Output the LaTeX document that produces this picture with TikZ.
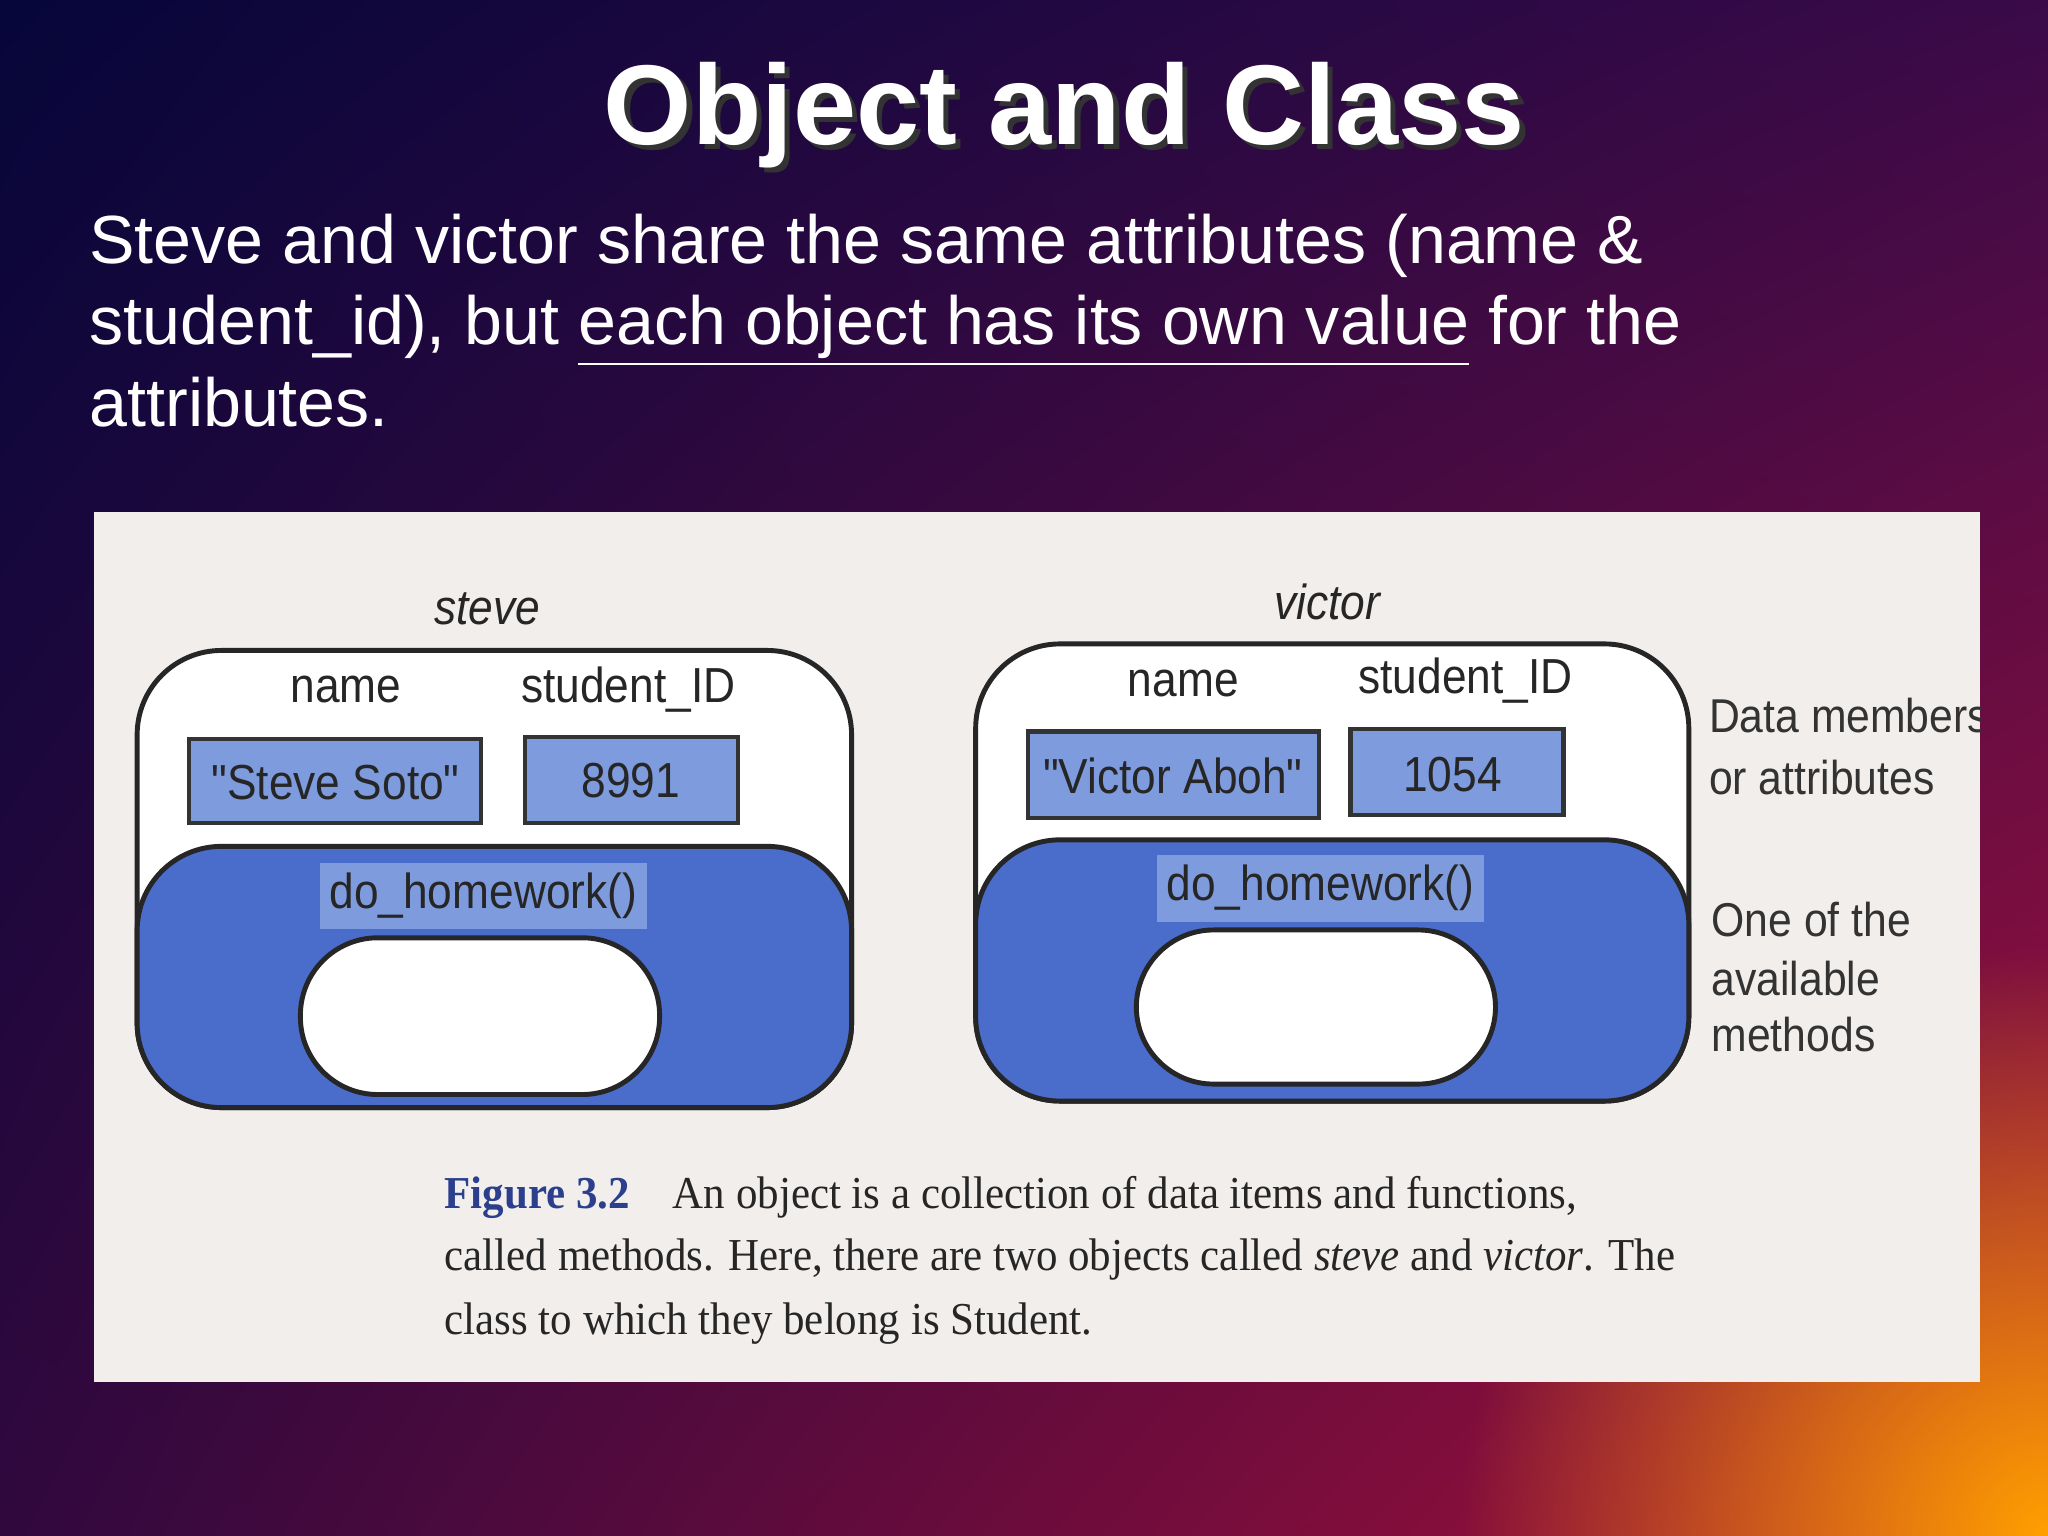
\documentclass[tikz,border=0pt]{standalone}
\usepackage{fontspec}
\setmainfont{Liberation Sans}
\newfontfamily\serifF{Liberation Serif}
\usetikzlibrary{fadings,shadings}
\definecolor{objblue}{HTML}{4A6CCB}
\definecolor{boxblue}{HTML}{7E9BDD}
\definecolor{paper}{HTML}{F1EEEC}
\definecolor{figblue}{HTML}{2B3F8C}
\definecolor{bgUL}{HTML}{06063A}
\definecolor{bgUR}{HTML}{3A0A48}
\definecolor{bgLL}{HTML}{30083E}
\definecolor{bgLR}{HTML}{A8103A}
\definecolor{bgOr}{HTML}{FFA000}
\tikzset{
 lab/.style={font=\fontsize{14}{16}\selectfont, text=black!85, xscale=0.9, inner sep=0},
 valbox/.style={draw=black!80, line width=1.2pt, fill=boxblue},
 objline/.style={draw=black!85, line width=1.4pt},
 captext/.style={font=\serifF\fontsize{13}{15}\selectfont, text=black!85, anchor=base west, inner sep=0, xscale=0.94},
 side/.style={font=\fontsize{13.5}{16}\selectfont, text=black!80, anchor=base west, inner sep=0, xscale=0.9},
}
\tikzfading[name=fuzzy, inner color=transparent!0, outer color=transparent!100]
\begin{document}
\begin{tikzpicture}[x=0.013061cm,y=-0.013061cm]
\useasboundingbox (0,0) rectangle (1568,1176);
\shade[upper left=bgUL, upper right=bgUR, lower left=bgLL, lower right=bgLR] (0,0) rectangle (1568,1176);
\begin{scope}
\clip (0,0) rectangle (1568,1176);
\fill[bgOr, path fading=fuzzy] (1568,1176) circle (450);
\end{scope}
% title
\node[text=black!80, font=\bfseries\fontsize{32.3}{36}\selectfont] at (819,92) {Object and Class};
\node (title) [text=white, font=\bfseries\fontsize{32.3}{36}\selectfont] at (815,88) {Object and Class};
\node (body) [text=white, font=\fontsize{19.4}{23.3}\selectfont, anchor=north west, align=left, inner sep=0] at (68,163)
 {Steve and victor share the same attributes (name \&\\student\_id), but \underline{each object has its own value} for the\\attributes.};
% panel
\fill[paper] (72,392) rectangle (1516,1058);
\begin{scope}
\clip (72,392) rectangle (1516,1058);
% steve
\path[objline, fill=white, rounded corners=24pt] (105,498) rectangle (652,848);
\path[objline, fill=objblue, rounded corners=24pt] (105,648) rectangle (652,848);
\path[objline, fill=white, rounded corners=22pt] (230,718) rectangle (505,838);
\node[lab, font=\itshape\fontsize{14}{16}\selectfont] (sname) at (373,466) {steve};
\node[lab] (sn) at (265,528) {name};
\node[lab] (sid) at (481,528) {student\_ID};
\draw[valbox] (145,566) rectangle (368,630);
\node[lab] (sv1) at (257,599) {\textquotedbl Steve Soto\textquotedbl};
\draw[valbox] (402,564) rectangle (565,630);
\node[lab] (sv2) at (483,598) {8991};
\node[lab, fill=boxblue, inner sep=3pt] (sm) at (370,686) {do\_homework()};
% victor
\path[objline, fill=white, rounded corners=24pt] (747,493) rectangle (1293,843);
\path[objline, fill=objblue, rounded corners=24pt] (747,643) rectangle (1293,843);
\path[objline, fill=white, rounded corners=22pt] (870,712) rectangle (1145,830);
\node[lab, font=\itshape\fontsize{14}{16}\selectfont] (vname) at (1016,461) {victor};
\node[lab] (vn) at (906,523) {name};
\node[lab] (vid) at (1122,521) {student\_ID};
\draw[valbox] (787,560) rectangle (1010,626);
\node[lab] (vv1) at (898,594) {\textquotedbl Victor Aboh\textquotedbl};
\draw[valbox] (1034,558) rectangle (1197,624);
\node[lab] (vv2) at (1112,593) {1054};
\node[lab, fill=boxblue, inner sep=3pt] (vm) at (1011,680) {do\_homework()};
% side labels
\node[side] (d1) at (1308,561) {Data members};
\node[side] (d2) at (1308,608) {or attributes};
\node[side] (m1) at (1310,717) {One of the};
\node[side] (m2) at (1310,762) {available};
\node[side] (m3) at (1310,805) {methods};
% caption
\node[captext] (c1) at (340,925) {\textcolor{figblue}{\textbf{Figure 3.2}}\quad An object is a collection of data items and functions,};
\node[captext] (c2) at (340,973) {called methods. Here, there are two objects called \textit{steve} and \textit{victor}. The};
\node[captext] (c3) at (340,1022) {class to which they belong is Student.};
\end{scope}
\end{tikzpicture}
\end{document}
